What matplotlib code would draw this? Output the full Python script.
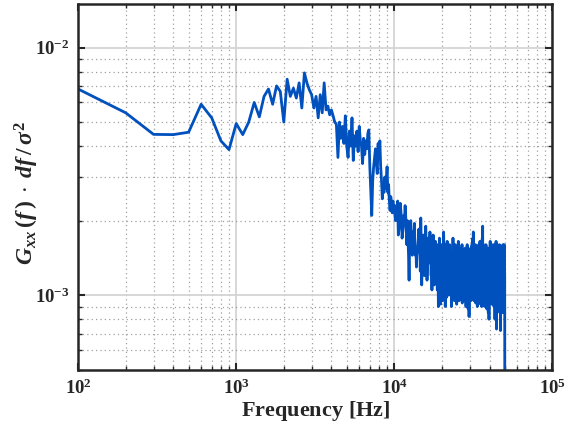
import numpy as np
import matplotlib
matplotlib.use("Agg")
import matplotlib.pyplot as plt
from matplotlib.ticker import LogLocator, FuncFormatter, NullFormatter

plt.rcParams["mathtext.fontset"] = "custom"
plt.rcParams["mathtext.rm"] = "Liberation Serif:bold"
plt.rcParams["mathtext.bf"] = "Liberation Serif:bold"
plt.rcParams["mathtext.it"] = "Liberation Serif:italic:bold"
plt.rcParams["mathtext.default"] = "it"

# Frequency bins (100 Hz resolution) and normalised one-sided PSD, in units of 1e-3
df_hz = 100
f_max = 50000
gxx_milli = [
    # 100 - 10000 Hz
    6.8, 5.45, 4.46, 4.45, 4.55, 5.9, 5.2, 4.2, 3.87, 4.93,
    4.45, 5.0, 6.0, 5.25, 6.35, 6.8, 5.9, 7.0, 6.65, 5.0,
    7.45, 6.35, 6.85, 6.25, 7.2, 5.7, 7.9, 7.2, 6.75, 6.45,
    5.7, 6.35, 5.2, 6.45, 5.45, 7.2, 5.6, 5.8, 5.35, 5.6,
    5.3, 5.0, 4.9, 3.6, 5.0, 4.3, 4.8, 4.1, 5.3, 4.0,
    3.6, 4.6, 4.0, 5.2, 3.5, 4.4, 4.0, 4.6, 3.8, 4.8,
    4.2, 4.0, 3.4, 4.3, 3.7, 4.2, 3.9, 4.5, 4.65, 3.3,
    2.6, 2.1, 2.9, 3.3, 3.6, 3.9, 3.4, 3.1, 4.1, 3.6,
    4.2, 3.3, 2.9, 2.45, 2.8, 2.6, 3.0, 2.7, 2.9, 3.3,
    2.6, 2.8, 2.4, 2.2, 2.5, 2.3, 2.15, 2.4, 2.2, 2.3,
    # 10.1 - 20 kHz
    2.1, 2.0, 2.3, 2.2, 2.4, 1.75, 1.85, 1.95, 2.35, 2.2,
    2.05, 1.7, 1.8, 1.9, 2.1, 2.0, 2.3, 2.1, 1.85, 1.6,
    2.0, 1.7, 1.45, 1.15, 1.6, 1.9, 2.0, 1.75, 1.55, 1.45,
    1.8, 1.7, 1.65, 1.95, 1.6, 1.45, 1.55, 1.3, 1.45, 1.5,
    1.6, 1.7, 1.85, 1.6, 1.7, 1.25, 2.05, 1.5, 1.1, 1.3,
    1.4, 1.75, 1.6, 1.55, 1.2, 1.3, 1.45, 1.9, 1.6, 1.5,
    1.15, 1.3, 1.4, 1.7, 1.55, 1.55, 1.35, 1.8, 1.5, 1.45,
    1.2, 1.35, 1.05, 1.5, 1.3, 1.75, 1.55, 1.45, 1.1, 1.25,
    1.3, 1.65, 1.4, 1.4, 1.2, 1.5, 1.05, 1.6, 1.25, 0.9,
    1.1, 1.15, 1.7, 1.4, 1.35, 0.92, 1.2, 1.2, 1.6, 1.35,
    # 20.1 - 30 kHz
    1.4, 0.95, 1.05, 1.25, 1.8, 1.5, 1.4, 1.15, 1.6, 0.9,
    1.0, 1.1, 1.5, 0.98, 1.3, 1.65, 1.45, 1.45, 1.2, 1.55,
    1.0, 1.1, 1.15, 1.6, 1.4, 1.3, 1.1, 1.45, 1.25, 0.9,
    1.2, 1.05, 1.35, 1.2, 1.7, 1.4, 1.4, 1.1, 1.55, 0.95,
    1.3, 1.15, 1.6, 1.45, 1.45, 1.2, 1.35, 0.92, 1.05, 1.1,
    1.4, 1.0, 1.25, 1.65, 1.45, 1.5, 0.95, 1.3, 1.15, 1.45,
    0.98, 1.1, 1.2, 1.55, 1.3, 1.4, 1.1, 1.6, 0.93, 1.3,
    1.15, 1.45, 1.0, 1.3, 1.2, 1.5, 0.95, 1.4, 1.1, 1.25,
    1.55, 1.35, 1.35, 0.9, 1.45, 1.15, 1.3, 1.05, 1.6, 1.2,
    1.0, 1.4, 0.88, 1.3, 1.15, 1.5, 0.82, 1.25, 1.1, 1.45,
    # 30.1 - 40 kHz
    1.0, 1.35, 1.15, 1.55, 0.95, 1.3, 1.05, 1.45, 1.2, 1.6,
    0.98, 1.4, 1.1, 1.7, 1.05, 1.8, 1.2, 1.5, 0.95, 1.35,
    1.15, 1.55, 1.0, 1.4, 1.25, 1.6, 0.93, 1.3, 1.1, 1.45,
    1.0, 1.35, 1.2, 1.55, 0.9, 1.3, 1.1, 1.5, 1.0, 1.4,
    1.2, 1.6, 0.95, 1.35, 1.1, 1.45, 1.0, 1.65, 1.15, 1.3,
    0.92, 1.4, 1.2, 1.55, 1.05, 1.35, 0.9, 1.5, 1.15, 1.7,
    1.1, 1.9, 1.25, 1.45, 1.0, 1.6, 1.15, 1.35, 0.95, 1.5,
    1.2, 1.4, 0.9, 1.3, 1.1, 1.55, 1.0, 1.4, 1.2, 1.6,
    0.95, 1.35, 1.1, 1.45, 0.88, 1.25, 1.15, 1.5, 1.0, 1.3,
    1.2, 1.55, 0.85, 1.35, 1.05, 1.45, 0.8, 1.3, 1.1, 1.4,
    # 40.1 - 50 kHz
    1.0, 1.55, 1.2, 1.65, 0.95, 1.4, 1.1, 1.5, 1.05, 1.35,
    1.2, 1.6, 0.92, 1.4, 1.15, 1.55, 1.0, 1.3, 1.2, 1.45,
    0.95, 1.35, 1.1, 1.6, 1.0, 1.45, 0.9, 1.3, 1.15, 1.5,
    1.05, 1.4, 0.8, 1.25, 1.1, 1.55, 0.95, 1.35, 1.2, 1.65,
    1.0, 1.45, 0.73, 1.3, 1.1, 1.6, 0.95, 1.4, 1.2, 1.5,
    0.9, 1.35, 1.1, 1.55, 1.0, 1.4, 1.15, 1.3, 0.95, 1.45,
    1.2, 1.6, 1.0, 1.35, 0.85, 1.3, 1.15, 1.5, 0.72, 1.25,
    1.05, 1.4, 0.9, 1.55, 1.1, 1.3, 0.95, 1.45, 1.2, 1.35,
    1.0, 1.5, 1.15, 1.3, 0.85, 1.6, 1.05, 1.4, 1.2, 1.55,
    0.95, 1.3, 1.1, 1.45, 0.9, 1.6, 1.0, 1.3, 1.2, 0.3,
]

freq = np.arange(df_hz, f_max + df_hz, df_hz)
gxx = np.array(gxx_milli) * 1e-3

x_limits = (1e2, 1e5)
y_limits = (5e-4, 1.5e-2)

fig = plt.figure(figsize=(5.66, 4.33), dpi=100)
ax = fig.add_axes([0.138, 0.146, 0.838, 0.845])

ax.loglog(freq, gxx, color="#0050BE", linewidth=2.0)

ax.set_xlim(*x_limits)
ax.set_ylim(*y_limits)

# grid: solid major lines, dotted minor lines
ax.grid(which="major", color="#d4d4d4", linestyle="-", linewidth=1.3)
ax.grid(which="minor", color="#a0a0a0", linestyle=(0, (1, 2.5)), linewidth=0.9)
ax.set_axisbelow(True)

ax.xaxis.set_major_locator(LogLocator(base=10, numticks=10))
ax.xaxis.set_minor_locator(LogLocator(base=10, subs=np.arange(2, 10), numticks=20))
ax.yaxis.set_major_locator(LogLocator(base=10, numticks=10))
ax.yaxis.set_minor_locator(LogLocator(base=10, subs=np.arange(2, 10), numticks=20))

fmt = FuncFormatter(lambda v, _: r"$\mathrm{10^{%d}}$" % int(round(np.log10(v))))
ax.xaxis.set_major_formatter(fmt)
ax.yaxis.set_major_formatter(fmt)
ax.xaxis.set_minor_formatter(NullFormatter())
ax.yaxis.set_minor_formatter(NullFormatter())

ax.tick_params(which="both", direction="in", top=True, right=True,
               colors="#262626", labelcolor="#262626")
ax.tick_params(which="major", length=5, width=1.5, labelsize=13.5, pad=6)
ax.tick_params(which="minor", length=3, width=1.0)

for sp in ax.spines.values():
    sp.set_linewidth(1.8)
    sp.set_color("#262626")

ax.set_xlabel(r"$\mathrm{Frequency}\ \mathrm{[Hz]}$", fontsize=16, color="#262626", labelpad=1)
fig.text(0.047, 0.555, r"$G_{xx}\,(f\,)\;\cdot\;df\,/\,\sigma^2$", fontsize=17,
         color="#262626", rotation=90, ha="center", va="center")

fig.savefig("out.png", dpi=100)
